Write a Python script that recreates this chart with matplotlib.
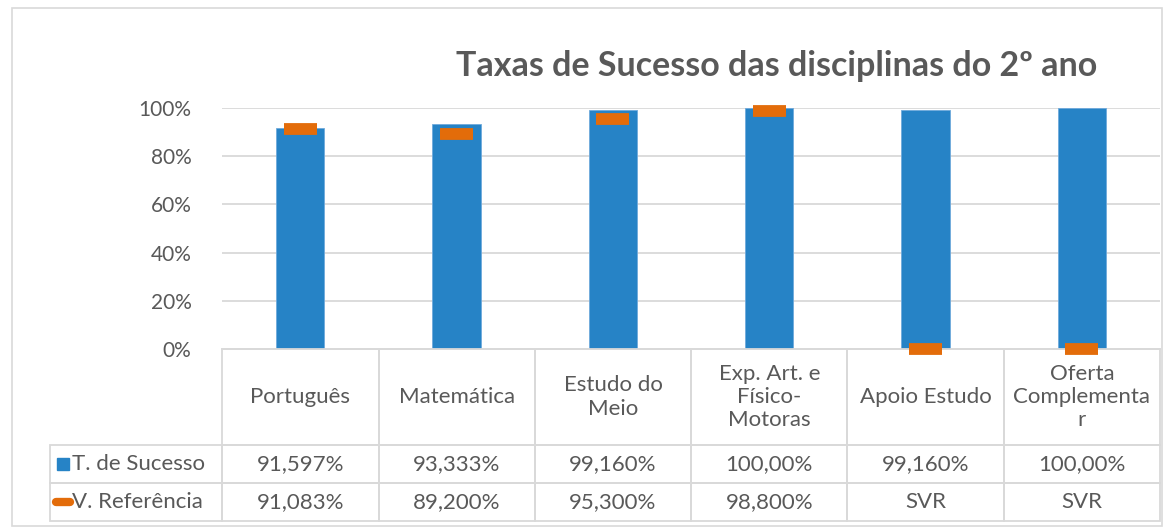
# Taxas de Sucesso - 2º ano (bar chart with data table)
import matplotlib
matplotlib.use("Agg")
import matplotlib.pyplot as plt
from matplotlib.table import Table
from matplotlib.patches import Rectangle

plt.rcParams['font.family'] = ['Lato', 'DejaVu Sans']

# Data:
categorias = ["Português", "Matemática", "Estudo do\nMeio", "Exp. Art. e\nFísico-\nMotoras",
              "Apoio Estudo", "Oferta\nComplementa\nr"]
sucesso = [91.597, 93.333, 99.160, 100.00, 99.160, 100.00]
referencia = [91.083, 89.200, 95.300, 98.800, 0.0, 0.0]
sucesso_txt = ["91,597%", "93,333%", "99,160%", "100,00%", "99,160%", "100,00%"]
referencia_txt = ["91,083%", "89,200%", "95,300%", "98,800%", "SVR", "SVR"]
y_ticks = [0, 20, 40, 60, 80, 100]

azul = "#2683C6"
laranja = "#E36C0A"
cinza = "#595959"
linha = "#D9D9D9"

W, H = 1169, 530
fig = plt.figure(figsize=(W / 100, H / 100), dpi=100)

# Chart border:
fig.patches.append(Rectangle((12 / W, 4 / H), 1150 / W, 518 / H, transform=fig.transFigure,
                             fill=False, edgecolor=linha, linewidth=1.2))

# Data table (drawn under the plot area):
x1, y_bot = 1160, 349
t_left, t_bot = 50, 521
ax_t = fig.add_axes([t_left / W, (H - t_bot) / H, (x1 - t_left) / W, (t_bot - y_bot) / H])
ax_t.set_xlim(0, 1)
ax_t.set_ylim(0, 1)
ax_t.axis("off")
tw = x1 - t_left
th = t_bot - y_bot
col_w = [172 / tw] + [156 / tw] * len(categorias)
row_h = [96 / th, 38 / th, 38 / th]
linhas = [[""] + categorias,
          ["T. de Sucesso"] + sucesso_txt,
          ["V. Referência"] + referencia_txt]
tab = Table(ax_t, bbox=[0, 0, 1, 1])
for r, row in enumerate(linhas):
    for c, txt in enumerate(row):
        cell = tab.add_cell(r, c, col_w[c], row_h[r], text=txt,
                            loc="left" if c == 0 else "center", facecolor="none")
        cell.set_edgecolor(linha)
        cell.set_linewidth(1.3)
        cell.get_text().set_color(cinza)
        cell.get_text().set_fontsize(16)
        if c == 0:
            cell.PAD = 0.13
        if r == 0 and c == 0:
            cell.visible_edges = ""
tab.auto_set_font_size(False)
ax_t.add_table(tab)

# Legend keys inside the table:
ax_t.plot([13 / tw], [(38 + 19) / th], marker="s", markersize=9, color=azul, linestyle="none")
ax_t.plot([6 / tw, 20 / tw], [19 / th, 19 / th], color=laranja, linewidth=6,
          solid_capstyle="round")

# Plot area:
x0, y_top = 222, 108
ax = fig.add_axes([x0 / W, (H - y_bot) / H, (x1 - x0) / W, (y_bot - y_top) / H])
ax.patch.set_alpha(0)
pos = list(range(len(categorias)))
ax.bar(pos, sucesso, width=0.31, color=azul, edgecolor="#6FAADC", linewidth=0.6, zorder=2)
for i, v in enumerate(referencia):
    ax.plot([i - 0.105, i + 0.105], [v, v], color=laranja, linewidth=8.5,
            solid_capstyle="butt", zorder=4, clip_on=False)
ax.set_xlim(-0.5, len(categorias) - 0.5)
ax.set_ylim(0, 100)
ax.set_yticks(y_ticks)
ax.set_yticklabels([f"{t}%" for t in y_ticks], fontsize=15, color=cinza)
ax.set_xticks([])
ax.grid(axis="y", color=linha, linewidth=1.3, zorder=0)
ax.tick_params(axis="y", length=0, pad=22)
for s in ["top", "right", "left"]:
    ax.spines[s].set_visible(False)
ax.spines["bottom"].set_color(linha)
ax.spines["bottom"].set_linewidth(1.3)

# Title:
fig.text(777 / W, (H - 66) / H, "Taxas de Sucesso das disciplinas do 2º ano", ha="center",
         va="center", fontsize=24.5, fontweight="bold", color=cinza)

fig.savefig("out.png", dpi=100)
